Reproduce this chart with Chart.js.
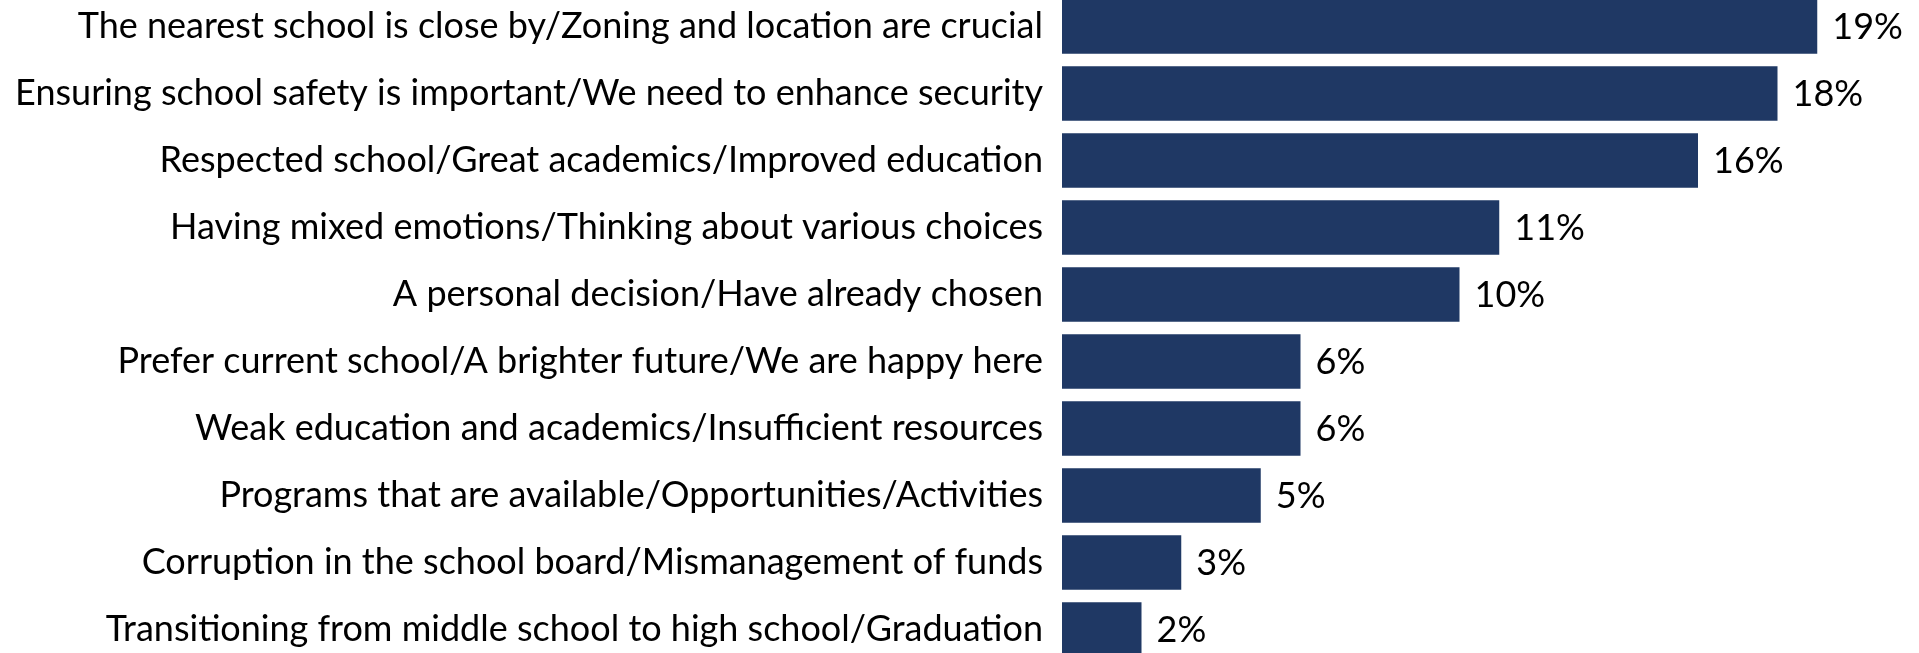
<!DOCTYPE html>
<html>
<head>
<meta charset="utf-8">
<script src="https://cdn.jsdelivr.net/npm/chart.js@4/dist/chart.umd.min.js"></script>
<style>
  html, body { margin: 0; padding: 0; background: #fff; overflow: hidden; }
  #wrap { position: absolute; left: 0; top: -7px; width: 1919px; height: 670px; }
</style>
</head>
<body>
<div id="wrap"><canvas id="grafico" width="1919" height="670"></canvas></div>
<script>
const categorias = [
  'The nearest school is close by/Zoning and location are crucial',
  'Ensuring school safety is important/We need to enhance security',
  'Respected school/Great academics/Improved education',
  'Having mixed emotions/Thinking about various choices',
  'A personal decision/Have already chosen',
  'Prefer current school/A brighter future/We are happy here',
  'Weak education and academics/Insufficient resources',
  'Programs that are available/Opportunities/Activities',
  'Corruption in the school board/Mismanagement of funds',
  'Transitioning from middle school to high school/Graduation'
]
const valores = [19, 18, 16, 11, 10, 6, 6, 5, 3, 2]
const rotulos = valores.map(v => v + '%')

const fonte = { family: 'Lato', size: 36 }

// escreve o % na ponta de cada barra
const rotuloValor = {
  id: 'rotuloValor',
  afterDatasetsDraw(chart) {
    const ctx = chart.ctx
    ctx.save()
    ctx.font = fonte.size + 'px ' + fonte.family
    ctx.fillStyle = '#000'
    ctx.textAlign = 'left'
    ctx.textBaseline = 'middle'
    chart.getDatasetMeta(0).data.forEach((barra, i) => {
      ctx.fillText(rotulos[i], barra.x + 15, barra.y + 1)
    })
    ctx.restore()
  }
}

const grafico = document.getElementById('grafico')

new Chart(grafico, {
  type: 'bar',
  data: {
    labels: categorias,
    datasets: [{
      data: valores,
      backgroundColor: '#1f3864',
      borderWidth: 0,
      categoryPercentage: 1,
      barPercentage: 0.81
    }]
  },
  options: {
    indexAxis: 'y',
    responsive: false,
    animation: false,
    devicePixelRatio: 1,
    layout: { padding: { left: 0, right: 62, top: 0, bottom: 0 } },
    plugins: { legend: { display: false }, tooltip: { enabled: false } },
    scales: {
      x: { display: false, min: 0, max: 20 },
      y: {
        grid: { display: false, drawTicks: false },
        border: { display: false },
        ticks: { color: '#000', font: fonte, padding: 19 },
        afterFit: scale => {
          scale.width = 1062
          scale.paddingTop = 0
          scale.paddingBottom = 0
        }
      }
    }
  },
  plugins: [rotuloValor]
})
</script>
</body>
</html>
